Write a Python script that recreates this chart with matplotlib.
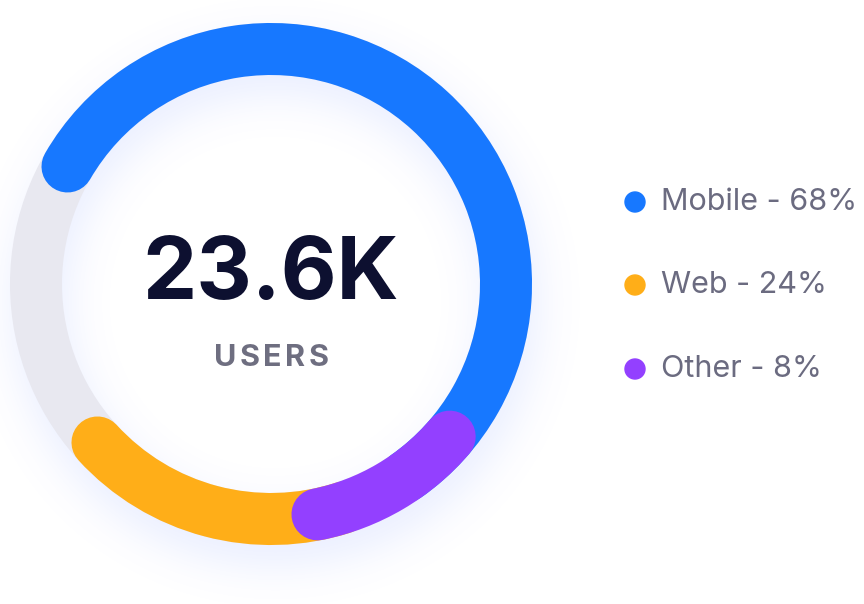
import numpy as np
import matplotlib.pyplot as plt
from matplotlib.patches import Arc, Circle

# data
labels = ["Mobile", "Web", "Other"]
shares = [68, 24, 8]
colors = ["#1778FF", "#FFAE18", "#9340FF"]
# arc extents (degrees, counter-clockwise, 0 = right)
arc_start = [-55, -137.6, -78.6]
arc_end = [150, -72, -40.5]
total_label = "23.6K"
sub_label = "USERS"

W, H = 864, 604
fig = plt.figure(figsize=(W / 100, H / 100), dpi=100)
ax = fig.add_axes([0, 0, 1, 1])
ax.set_xlim(0, W)
ax.set_ylim(0, H)
ax.set_aspect("equal")
ax.axis("off")

cx, cy = 271, H - 284
r_mid = 235
ring_px = 52
lw = ring_px * 72 / 100

# soft shadow
yy, xx = np.mgrid[0:H, 0:W]
d = np.hypot(xx - (cx + 4), (H - yy) - (cy - 18))
alpha = 0.11 * np.exp(-((d - r_mid) / 38) ** 2)
img = np.zeros((H, W, 4))
img[..., 0] = 0.35
img[..., 1] = 0.5
img[..., 2] = 1.0
img[..., 3] = alpha
ax.imshow(img[::-1], extent=[0, W, 0, H], origin="lower", zorder=0)

# background ring
ax.add_patch(Circle((cx, cy), r_mid, fill=False, lw=lw, ec="#E8E8F0", zorder=1))

for c, t1, t2 in zip(colors, arc_start, arc_end):
    a = Arc((cx, cy), 2 * r_mid, 2 * r_mid, theta1=t1, theta2=t2,
            lw=lw, color=c, zorder=2)
    a.set_capstyle("round")
    ax.add_patch(a)

ax.text(cx, H - 277, total_label, ha="center", va="center", fontsize=62,
        fontweight="bold", family="Inter", color="#0D1030", zorder=3)

# letter-spaced sub label
sub_size = 22
renderer = fig.canvas.get_renderer()
widths = []
for ch in sub_label:
    t = ax.text(0, 0, ch, fontsize=sub_size, fontweight="bold", family="Inter")
    widths.append(t.get_window_extent(renderer).width)
    t.remove()
gap = 3.5
x = cx - (sum(widths) + gap * (len(sub_label) - 1)) / 2
for ch, w in zip(sub_label, widths):
    ax.text(x, H - 358, ch, ha="left", va="center", fontsize=sub_size,
            fontweight="bold", family="Inter", color="#6E6E80", zorder=3)
    x += w + gap

# legend
leg_y = [202, 285, 369]
for lab, s, c, y in zip(labels, shares, colors, leg_y):
    ax.add_patch(Circle((635, H - y), 10, color=c, zorder=3))
    ax.text(661, H - y, f"{lab} - {s}%", ha="left", va="center", fontsize=22,
            family="Inter", color="#6B6B80", zorder=3)

fig.savefig("out.png", dpi=100)
